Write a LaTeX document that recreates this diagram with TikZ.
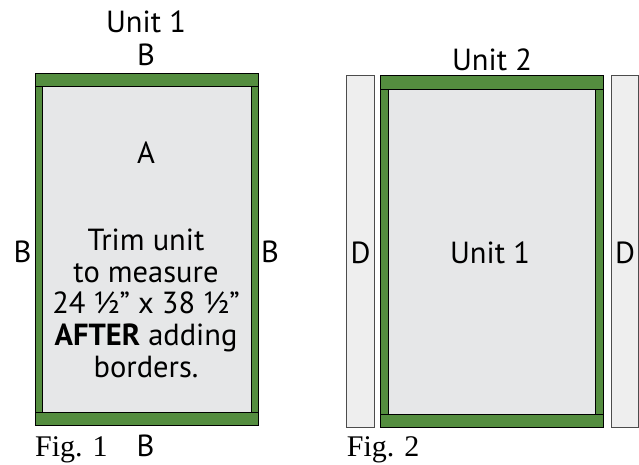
\documentclass[tikz,border=0pt]{standalone}
\usepackage{fontspec}
\setmainfont{PT Sans}
\newfontfamily\figfont{Liberation Serif}
\definecolor{bordergreen}{RGB}{84,141,63}
\definecolor{innergrey}{RGB}{230,231,232}
\definecolor{stripgrey}{RGB}{238,238,238}
\begin{document}
\begin{tikzpicture}[x=1pt,y=-1pt,
  border/.style={draw=black,line width=0.9pt,fill=bordergreen},
  inner/.style={draw=black,line width=0.9pt,fill=innergrey},
  strip/.style={draw=black!70,line width=0.9pt,fill=stripgrey},
  lbl/.style={inner sep=0pt,anchor=base,font=\fontsize{30.5}{33}\selectfont},
  figlbl/.style={inner sep=0pt,anchor=base west,font=\figfont\fontsize{30}{32}\selectfont}]
\useasboundingbox (0,0) rectangle (639,464);
% Fig 1
\draw[inner] (42,86) rectangle (251,412);
\draw[border] (35,86) rectangle (42,412);
\draw[border] (251,86) rectangle (258,412);
\draw[border] (35,73) rectangle (258,86);
\draw[border] (35,412) rectangle (258,425);
\node[lbl] (u1) at (146,32) {Unit 1};
\node[lbl] (btop) at (146,65) {B};
\node[lbl] (a) at (146,163) {A};
\node[lbl] (bleft) at (22.5,262) {B};
\node[lbl] (bright) at (270,262) {B};
\node[lbl] (t1) at (146,250) {Trim unit};
\node[lbl] (t2) at (146,282) {to measure};
\node[lbl] (t3) at (146,313) {24 ½” x 38 ½”};
\node[lbl] (t4) at (146,345) {\textbf{AFTER} adding};
\node[lbl] (t5) at (146,377) {borders.};
\node[figlbl] (f1) at (35,456) {Fig. 1};
\node[lbl] (bbot) at (145.5,456) {B};
% Fig 2
\draw[strip] (346.7,75.7) rectangle (374.3,427.7);
\draw[strip] (611,75.7) rectangle (638.5,427.7);
\draw[inner] (388.3,89.3) rectangle (595.7,414.3);
\draw[border] (380.7,89.3) rectangle (388.3,414.3);
\draw[border] (595.7,89.3) rectangle (603.3,414.3);
\draw[border] (380.7,75.7) rectangle (603.3,89.3);
\draw[border] (380.7,414.3) rectangle (603.3,427.7);
\node[lbl] (u2) at (492,70) {Unit 2};
\node[lbl] (dleft) at (360.5,263) {D};
\node[lbl] (dright) at (625,263) {D};
\node[lbl] (u1b) at (490,263) {Unit 1};
\node[figlbl] (f2) at (346.7,456) {Fig. 2};
\end{tikzpicture}
\end{document}
